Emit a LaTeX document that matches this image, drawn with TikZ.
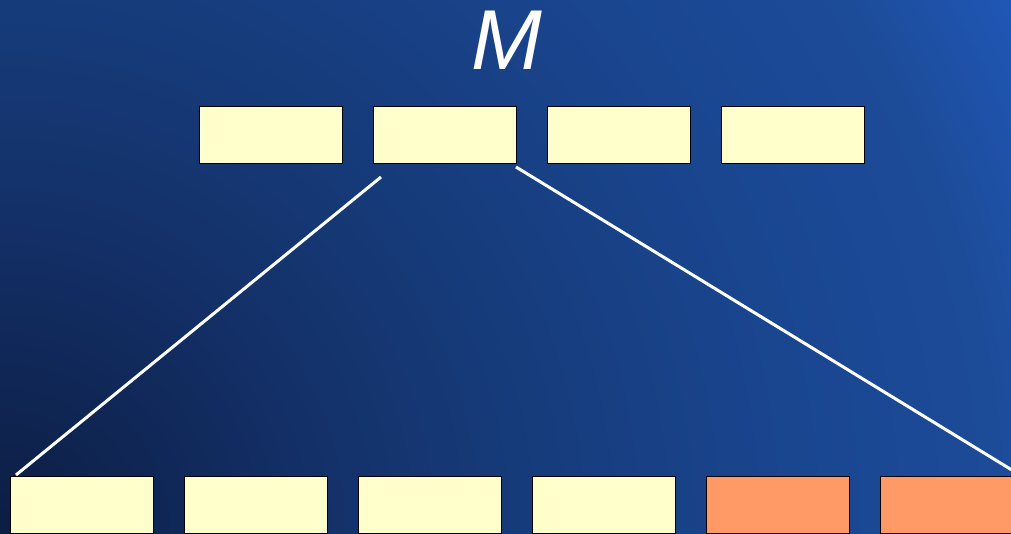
\documentclass[tikz,border=0pt]{standalone}
\usepackage{fontspec}
\setmainfont{Liberation Sans}
\definecolor{bgA}{HTML}{0C1D42}
\definecolor{bgB}{HTML}{132F66}
\definecolor{bgC}{HTML}{163A78}
\definecolor{bgD}{HTML}{1A4690}
\definecolor{bgDD}{HTML}{1C4B98}
\definecolor{bgE}{HTML}{2058B8}
\definecolor{boxyellow}{HTML}{FFFFCC}
\definecolor{boxorange}{HTML}{FF9966}
\begin{document}
\begin{tikzpicture}[x=1pt,y=-1pt,
  cell/.style={draw=black, line width=0.8pt, minimum width=143pt, minimum height=57pt, inner sep=0pt, outer sep=0pt, anchor=north west},
  yel/.style={cell, fill=boxyellow},
  ora/.style={cell, fill=boxorange},
  link/.style={draw=white, line width=3pt}]
\useasboundingbox (0,0) rectangle (1011,534);
\begin{scope}
\clip (0,0) rectangle (1011,534);
\fill[bgE] (0,0) rectangle (1011,534);
\foreach \r in {1150,1145,...,1005}{\pgfmathtruncatemacro{\p}{(\r-1000)/1.5}\fill[bgE!\p!bgDD] (0,534) circle (\r);}
\foreach \r in {1000,995,...,805}{\pgfmathtruncatemacro{\p}{(\r-800)/2}\fill[bgDD!\p!bgD] (0,534) circle (\r);}
\foreach \r in {800,795,...,505}{\pgfmathtruncatemacro{\p}{(\r-500)/3}\fill[bgD!\p!bgC] (0,534) circle (\r);}
\foreach \r in {500,495,...,305}{\pgfmathtruncatemacro{\p}{(\r-300)/2}\fill[bgC!\p!bgB] (0,534) circle (\r);}
\foreach \r in {300,295,...,5}{\pgfmathtruncatemacro{\p}{\r/3}\fill[bgB!\p!bgA] (0,534) circle (\r);}
\end{scope}
\node[text=white, font=\itshape\fontsize{85}{85}\selectfont, inner sep=0pt] (title) at (507,40) {M};
\node[yel] (t1) at (199,106) {};
\node[yel] (t2) at (373,106) {};
\node[yel] (t3) at (547,106) {};
\node[yel] (t4) at (721,106) {};
\node[yel] (b1) at (10,476) {};
\node[yel] (b2) at (184,476) {};
\node[yel] (b3) at (358,476) {};
\node[yel] (b4) at (532,476) {};
\node[ora] (b5) at (706,476) {};
\node[ora] (b6) at (880,476) {};
\coordinate (l1s) at (381,177);
\coordinate (l1e) at (16,475);
\coordinate (l2s) at (516,167);
\coordinate (l2e) at (1025,478);
\draw[link] (l1s) -- (l1e);
\draw[link] (l2s) -- (l2e);
\end{tikzpicture}
\end{document}
